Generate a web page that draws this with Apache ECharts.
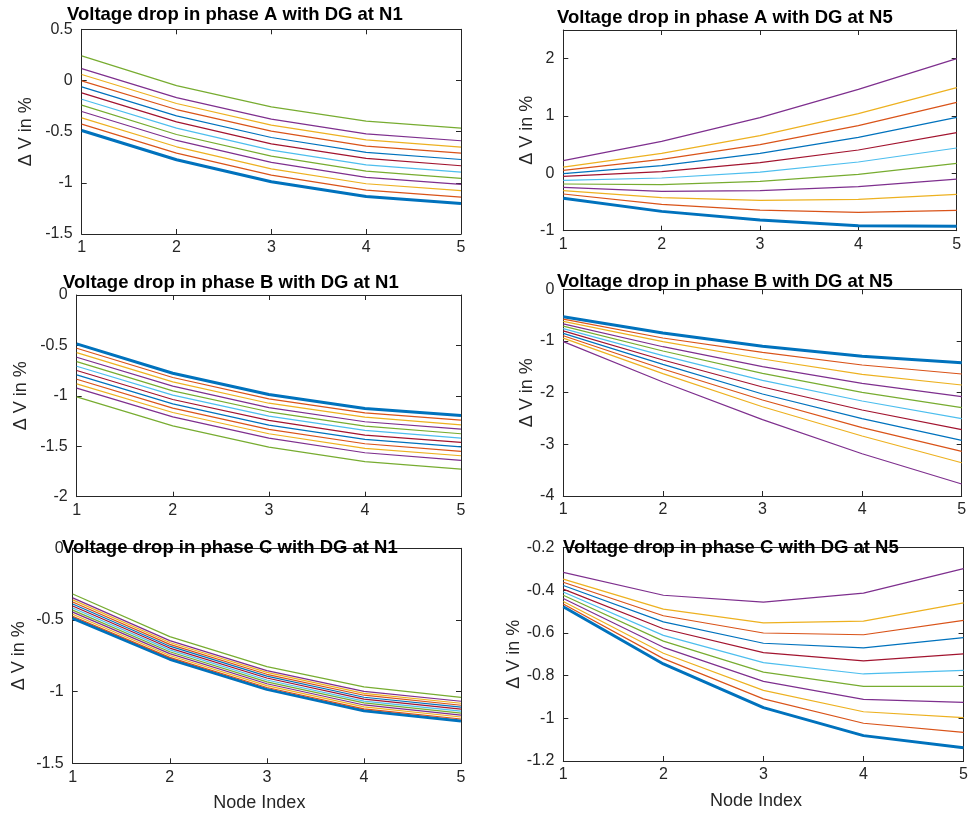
<!DOCTYPE html>
<html><head><meta charset="utf-8">
<script src="https://cdn.jsdelivr.net/npm/echarts@6/dist/echarts.min.js"></script>
<style>html,body{margin:0;padding:0;background:#fff}#c{width:971px;height:819px}</style>
</head><body><div id="c"></div><script>
const nodes = [1, 2, 3, 4, 5];
const lineColors = ['#0072BD', '#D95319', '#EDB120', '#7E2F8E', '#77AC30', '#4DBEEE', '#A2142F'];
const panelTitles = [
  'Voltage drop in phase A with DG at N1', 'Voltage drop in phase A with DG at N5',
  'Voltage drop in phase B with DG at N1', 'Voltage drop in phase B with DG at N5',
  'Voltage drop in phase C with DG at N1', 'Voltage drop in phase C with DG at N5'
];
const yLabel = '\u0394 V in %';
const xLabel = 'Node Index';

// each row = one curve over nodes 1..5 (row 0 = thick base curve)
const phaseA_N1 = [
  [-0.489, -0.775, -0.989, -1.133, -1.201],
  [-0.427, -0.710, -0.924, -1.071, -1.139],
  [-0.365, -0.648, -0.863, -1.009, -1.077],
  [-0.303, -0.586, -0.801, -0.947, -1.015],
  [-0.241, -0.528, -0.739, -0.885, -0.957],
  [-0.183, -0.466, -0.680, -0.824, -0.895],
  [-0.121, -0.404, -0.619, -0.762, -0.833],
  [-0.063, -0.346, -0.557, -0.703, -0.772],
  [-0.004, -0.284, -0.495, -0.641, -0.710],
  [0.058, -0.225, -0.437, -0.580, -0.651],
  [0.116, -0.167, -0.378, -0.521, -0.589],
  [0.240, -0.050, -0.258, -0.398, -0.466]
];
const phaseA_N5 = [
  [-0.436, -0.663, -0.814, -0.913, -0.924],
  [-0.360, -0.541, -0.640, -0.680, -0.645],
  [-0.302, -0.424, -0.471, -0.453, -0.366],
  [-0.244, -0.314, -0.302, -0.233, -0.099],
  [-0.186, -0.198, -0.140, -0.017, 0.174],
  [-0.122, -0.081, 0.023, 0.198, 0.442],
  [-0.052, 0.029, 0.186, 0.407, 0.709],
  [-0.006, 0.134, 0.349, 0.628, 0.977],
  [0.052, 0.244, 0.500, 0.831, 1.238],
  [0.110, 0.349, 0.657, 1.041, 1.494],
  [0.221, 0.558, 0.971, 1.465, 2.000]
];
const phaseB_N1 = [
  [-0.485, -0.776, -0.987, -1.125, -1.195],
  [-0.528, -0.818, -1.030, -1.168, -1.241],
  [-0.571, -0.861, -1.073, -1.211, -1.287],
  [-0.617, -0.904, -1.116, -1.257, -1.330],
  [-0.660, -0.950, -1.158, -1.300, -1.376],
  [-0.706, -0.993, -1.201, -1.343, -1.419],
  [-0.749, -1.036, -1.244, -1.389, -1.462],
  [-0.792, -1.079, -1.290, -1.432, -1.505],
  [-0.835, -1.122, -1.333, -1.475, -1.551],
  [-0.881, -1.165, -1.376, -1.521, -1.594],
  [-0.924, -1.208, -1.419, -1.564, -1.640],
  [-1.010, -1.297, -1.508, -1.653, -1.726]
];
const phaseB_N5 = [
  [-0.530, -0.846, -1.103, -1.297, -1.420],
  [-0.576, -0.943, -1.219, -1.465, -1.639],
  [-0.622, -1.014, -1.349, -1.645, -1.852],
  [-0.668, -1.111, -1.497, -1.819, -2.078],
  [-0.714, -1.194, -1.626, -1.994, -2.291],
  [-0.760, -1.285, -1.761, -2.162, -2.504],
  [-0.806, -1.368, -1.891, -2.336, -2.717],
  [-0.852, -1.452, -2.026, -2.504, -2.923],
  [-0.898, -1.543, -2.142, -2.678, -3.135],
  [-0.944, -1.633, -2.272, -2.839, -3.356],
  [-1.013, -1.794, -2.523, -3.182, -3.768]
];
const phaseC_N1 = [
  [-0.488, -0.774, -0.984, -1.133, -1.205],
  [-0.474, -0.761, -0.971, -1.120, -1.191],
  [-0.460, -0.748, -0.958, -1.106, -1.177],
  [-0.445, -0.735, -0.945, -1.093, -1.164],
  [-0.431, -0.722, -0.932, -1.079, -1.150],
  [-0.417, -0.709, -0.919, -1.066, -1.136],
  [-0.403, -0.696, -0.905, -1.052, -1.122],
  [-0.389, -0.683, -0.892, -1.039, -1.108],
  [-0.375, -0.670, -0.879, -1.025, -1.095],
  [-0.360, -0.657, -0.866, -1.012, -1.081],
  [-0.346, -0.644, -0.853, -0.998, -1.067],
  [-0.319, -0.616, -0.826, -0.967, -1.040]
];
const phaseC_N5 = [
  [-0.477, -0.745, -0.950, -1.081, -1.138],
  [-0.464, -0.720, -0.909, -1.023, -1.066],
  [-0.452, -0.695, -0.869, -0.969, -0.997],
  [-0.438, -0.667, -0.827, -0.911, -0.925],
  [-0.423, -0.638, -0.783, -0.850, -0.850],
  [-0.408, -0.611, -0.739, -0.792, -0.775],
  [-0.394, -0.580, -0.692, -0.731, -0.698],
  [-0.377, -0.548, -0.648, -0.670, -0.622],
  [-0.362, -0.519, -0.600, -0.608, -0.541],
  [-0.347, -0.488, -0.552, -0.544, -0.459],
  [-0.316, -0.423, -0.455, -0.413, -0.298]
];
// y-axis ranges per panel: [min, max, interval]
const yRanges = [[-1.5, 0.5, 0.5], [-1, 2.5, 1], [-2, 0, 0.5], [-4, 0, 1], [-1.5, 0, 0.5], [-1.2, -0.2, 0.2]];
const panelData = [phaseA_N1, phaseA_N5, phaseB_N1, phaseB_N5, phaseC_N1, phaseC_N5];

// layout (pixels)
const layout = [
  {grid: {left: 81.7, top: 29.3, width: 379.3, height: 204.7}, title: {left: 67, top: 5}, yGap: 47, xName: false},
  {grid: {left: 563.3, top: 30, width: 393.4, height: 200.7}, title: {left: 557, top: 8}, yGap: 27, xName: false},
  {grid: {left: 76.7, top: 295, width: 384.3, height: 201.7}, title: {left: 63, top: 273}, yGap: 47, xName: false},
  {grid: {left: 563.3, top: 289.3, width: 398.4, height: 206.7}, title: {left: 557, top: 272}, yGap: 27, xName: false},
  {grid: {left: 72.7, top: 548.3, width: 388.3, height: 215}, title: {left: 62, top: 538}, yGap: 45, xName: true},
  {grid: {left: 563.3, top: 547.7, width: 401.7, height: 213.3}, title: {left: 563, top: 538}, yGap: 38, xName: true}
];

const FONT = '"Liberation Sans", Arial, Helvetica, sans-serif';
const AX = '#262626';
const grids = [], xAxes = [], yAxes = [], series = [], titles = [];
layout.forEach((L, p) => {
  grids.push(Object.assign({containLabel: false}, L.grid));
  titles.push({text: panelTitles[p], left: L.title.left, top: L.title.top, padding: 0,
    textStyle: {fontFamily: FONT, fontSize: 18.5, fontWeight: 'bold', color: '#000'}});
  const [ymin, ymax, yint] = yRanges[p];
  const common = {
    axisLine: {show: true, onZero: false, lineStyle: {color: AX, width: 1}},
    axisTick: {show: true, inside: true, length: 5, lineStyle: {color: AX}},
    splitLine: {show: false}
  };
  xAxes.push(Object.assign({}, common, {type: 'value', gridIndex: p, position: 'bottom', min: 1, max: 5, interval: 1,
    name: L.xName ? xLabel : '', nameLocation: 'middle', nameGap: 31,
    nameTextStyle: {fontFamily: FONT, fontSize: 18, color: AX, padding: [0, 15, 0, 0]},
    axisLabel: {show: true, margin: 6, fontFamily: FONT, fontSize: 16, color: AX}}));
  xAxes.push(Object.assign({}, common, {type: 'value', gridIndex: p, position: 'top', min: 1, max: 5, interval: 1,
    axisLabel: {show: false}}));
  yAxes.push(Object.assign({}, common, {type: 'value', gridIndex: p, position: 'left', min: ymin, max: ymax, interval: yint,
    name: yLabel, nameLocation: 'middle', nameGap: L.yGap,
    nameTextStyle: {fontFamily: FONT, fontSize: 18, color: AX},
    axisLabel: {show: true, margin: 9, fontFamily: FONT, fontSize: 16, color: AX, showMaxLabel: p === 1 ? false : true}}));
  yAxes.push(Object.assign({}, common, {type: 'value', gridIndex: p, position: 'right', min: ymin, max: ymax, interval: yint,
    axisLabel: {show: false}}));
  panelData[p].forEach((row, i) => {
    series.push({type: 'line', xAxisIndex: 2 * p, yAxisIndex: 2 * p, symbol: 'none', silent: true,
      data: nodes.map((n, k) => [n, row[k]]),
      lineStyle: {color: lineColors[i % lineColors.length], width: i === 0 ? 3 : 1.2},
      itemStyle: {color: lineColors[i % lineColors.length]}});
  });
});

const chart = echarts.init(document.getElementById('c'), null, {renderer: 'canvas'});
chart.setOption({animation: false, backgroundColor: '#fff', title: titles, grid: grids, xAxis: xAxes, yAxis: yAxes, series: series});
</script></body></html>
